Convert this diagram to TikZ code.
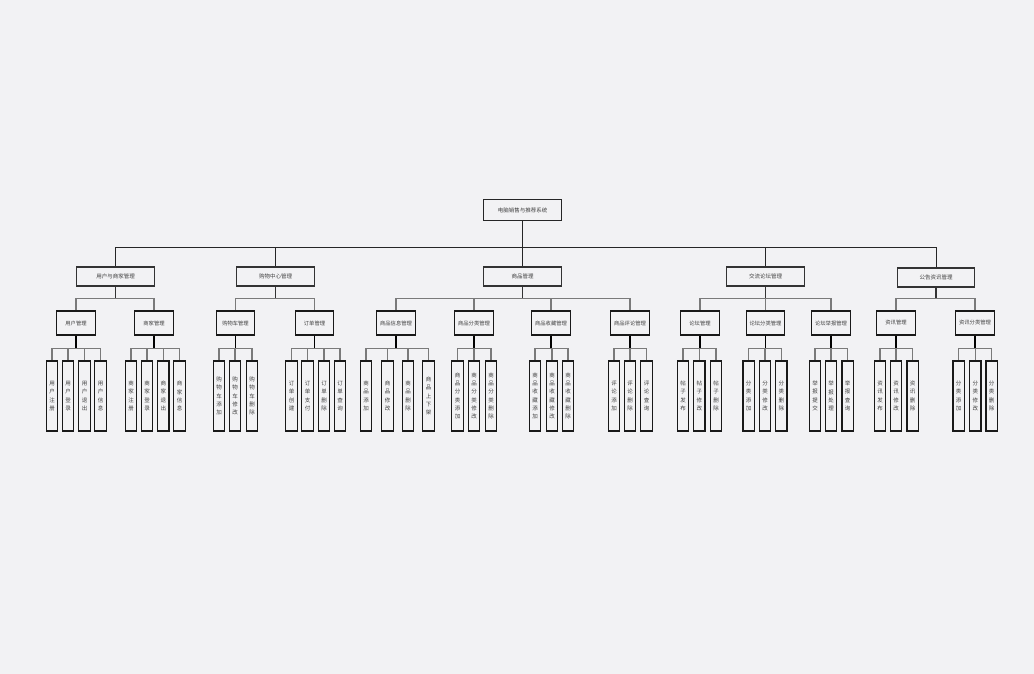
\documentclass[tikz,border=0pt]{standalone}
\usepackage{fontspec}
\newfontfamily\cjk{Noto Sans CJK SC}
\usepackage{tikz}
\definecolor{bg}{HTML}{F2F2F4}
\definecolor{linegray}{HTML}{7A7A7A}
\tikzstyle{sysbox} = [rectangle, minimum width=78pt, minimum height=21pt,
                      inner sep=0pt, draw=black!85, line width=1.1pt, fill=bg,
                      font=\cjk\fontsize{5.5}{6}\selectfont, text=black!75]
\tikzstyle{groupbox} = [rectangle, minimum width=77.5pt, minimum height=19pt,
                        inner sep=0pt, draw=black!80, line width=1.2pt, fill=bg,
                        font=\cjk\fontsize{5.5}{6}\selectfont, text=black!75]
\tikzstyle{modbox} = [rectangle, minimum width=38.5pt, minimum height=24pt,
                      inner sep=0pt, draw=black!90, line width=1.2pt, fill=bg,
                      font=\cjk\fontsize{5.3}{6}\selectfont, text=black!75]
\tikzstyle{leafbox} = [rectangle, minimum width=11.5pt, minimum height=70pt,
                       inner sep=0pt, draw=black!90, line width=1.3pt, fill=bg,
                       align=center, font=\cjk\fontsize{5.5}{8.3}\selectfont, text=black!75]
\tikzstyle{mainline} = [draw=black!85, line width=1pt]
\tikzstyle{subline} = [draw=linegray, line width=1.2pt]
\tikzstyle{groupstem} = [draw=black!80, line width=1.4pt]
\tikzstyle{stemline} = [draw=black, line width=1.6pt]

\begin{document}
\begin{tikzpicture}[x=1pt, y=-1pt]
\fill[bg] (0,0) rectangle (1034,674);
\useasboundingbox (0,0) rectangle (1034,674);

\node (sys) [sysbox] at (522.5,210) {电脑销售与推荐系统};

\node (yhsj) [groupbox] at (115.5,276.5) {用户与商家管理};
\node (gwzx) [groupbox] at (275.5,276.5) {购物中心管理};
\node (spgl) [groupbox] at (522.5,276.5) {商品管理};
\node (jllt) [groupbox] at (765.5,276.5) {交流论坛管理};
\node (ggzx) [groupbox] at (936,277.5) {公告资讯管理};

\node (yh) [modbox] at (76,323) {用户管理};
\node (sj) [modbox] at (154,323) {商家管理};
\node (gwc) [modbox] at (235.5,323) {购物车管理};
\node (dd) [modbox] at (314.5,323) {订单管理};
\node (spxx) [modbox] at (396,323) {商品信息管理};
\node (spfl) [modbox] at (474,323) {商品分类管理};
\node (spsc) [modbox] at (551,323) {商品收藏管理};
\node (sppl) [modbox] at (630,323) {商品评论管理};
\node (lt) [modbox] at (700,323) {论坛管理};
\node (ltfl) [modbox] at (765.5,323) {论坛分类管理};
\node (ltjb) [modbox] at (831,323) {论坛举报管理};
\node (zx) [modbox] at (896,323) {资讯管理};
\node (zxfl) [modbox] at (975,323) {资讯分类管理};

% leaves
\node (yh1) [leafbox] at (52,396) {用\\户\\注\\册};
\node (yh2) [leafbox] at (68,396) {用\\户\\登\\录};
\node (yh3) [leafbox] at (84.5,396) {用\\户\\退\\出};
\node (yh4) [leafbox] at (100.5,396) {用\\户\\信\\息};
\node (sj1) [leafbox] at (131,396) {商\\家\\注\\册};
\node (sj2) [leafbox] at (147,396) {商\\家\\登\\录};
\node (sj3) [leafbox] at (163.3,396) {商\\家\\退\\出};
\node (sj4) [leafbox] at (179.5,396) {商\\家\\信\\息};
\node (gwc1) [leafbox] at (219,396) {购\\物\\车\\添\\加};
\node (gwc2) [leafbox] at (235,396) {购\\物\\车\\修\\改};
\node (gwc3) [leafbox] at (252,396) {购\\物\\车\\删\\除};
\node (dd1) [leafbox] at (291.5,396) {订\\单\\创\\建};
\node (dd2) [leafbox] at (307.5,396) {订\\单\\支\\付};
\node (dd3) [leafbox] at (324,396) {订\\单\\删\\除};
\node (dd4) [leafbox] at (340,396) {订\\单\\查\\询};
\node (spxx1) [leafbox] at (366,396) {商\\品\\添\\加};
\node (spxx2) [leafbox] at (387.5,396) {商\\品\\修\\改};
\node (spxx3) [leafbox] at (408,396) {商\\品\\删\\除};
\node (spxx4) [leafbox] at (428.5,396) {商\\品\\上\\下\\架};
\node (spfl1) [leafbox] at (457.5,396) {商\\品\\分\\类\\添\\加};
\node (spfl2) [leafbox] at (474,396) {商\\品\\分\\类\\修\\改};
\node (spfl3) [leafbox] at (491,396) {商\\品\\分\\类\\删\\除};
\node (spsc1) [leafbox] at (535,396) {商\\品\\收\\藏\\添\\加};
\node (spsc2) [leafbox] at (552,396) {商\\品\\收\\藏\\修\\改};
\node (spsc3) [leafbox] at (568,396) {商\\品\\收\\藏\\删\\除};
\node (sppl1) [leafbox] at (614,396) {评\\论\\添\\加};
\node (sppl2) [leafbox] at (630,396) {评\\论\\删\\除};
\node (sppl3) [leafbox] at (646.5,396) {评\\论\\查\\询};
\node (lt1) [leafbox] at (683,396) {帖\\子\\发\\布};
\node (lt2) [leafbox] at (699.3,396) {帖\\子\\修\\改};
\node (lt3) [leafbox] at (716,396) {帖\\子\\删\\除};
\node (ltfl1) [leafbox] at (748.7,396) {分\\类\\添\\加};
\node (ltfl2) [leafbox] at (765,396) {分\\类\\修\\改};
\node (ltfl3) [leafbox] at (781.3,396) {分\\类\\删\\除};
\node (ltjb1) [leafbox] at (815,396) {举\\报\\提\\交};
\node (ltjb2) [leafbox] at (831,396) {举\\报\\处\\理};
\node (ltjb3) [leafbox] at (847.7,396) {举\\报\\查\\询};
\node (zx1) [leafbox] at (880,396) {资\\讯\\发\\布};
\node (zx2) [leafbox] at (896,396) {资\\讯\\修\\改};
\node (zx3) [leafbox] at (912.7,396) {资\\讯\\删\\除};
\node (zxfl1) [leafbox] at (958.7,396) {分\\类\\添\\加};
\node (zxfl2) [leafbox] at (975.3,396) {分\\类\\修\\改};
\node (zxfl3) [leafbox] at (991.7,396) {分\\类\\删\\除};

% system -> groups
\draw [mainline] (sys.south) -- ++(0,26) -| (yhsj.north);
\draw [mainline] (sys.south) -- ++(0,26) -| (gwzx.north);
\draw [mainline] (sys.south) -- (spgl.north);
\draw [mainline] (sys.south) -- ++(0,26) -| (jllt.north);
\draw [mainline] (sys.south) -- ++(0,26) -| (ggzx.north);

% groups -> modules
\draw [groupstem] (yhsj.south) -- ++(0,11.5);
\draw [subline] (yhsj.south) ++(0,11.5) -| (yh.north);
\draw [subline] (yhsj.south) ++(0,11.5) -| (sj.north);
\draw [groupstem] (gwzx.south) -- ++(0,11.5);
\draw [subline] (gwzx.south) ++(0,11.5) -| (gwc.north);
\draw [subline] (gwzx.south) ++(0,11.5) -| (dd.north);
\draw [groupstem] (spgl.south) -- ++(0,11.5);
\draw [subline] (spgl.south) ++(0,11.5) -| (spxx.north);
\draw [subline] (spgl.south) ++(0,11.5) -| (spfl.north);
\draw [subline] (spgl.south) ++(0,11.5) -| (spsc.north);
\draw [subline] (spgl.south) ++(0,11.5) -| (sppl.north);
\draw [groupstem] (jllt.south) -- ++(0,11.5);
\draw [subline] (jllt.south) ++(0,11.5) -| (lt.north);
\draw [subline] (jllt.south) ++(0,11.5) -| (ltfl.north);
\draw [subline] (jllt.south) ++(0,11.5) -| (ltjb.north);
\draw [groupstem] (ggzx.south) -- ++(0,10.5);
\draw [subline] (ggzx.south) ++(0,10.5) -| (zx.north);
\draw [subline] (ggzx.south) ++(0,10.5) -| (zxfl.north);

% modules -> leaves
\draw [stemline] (yh.south) -- ++(0,13);
\draw [subline] (yh.south) ++(0,13) -| (yh1.north);
\draw [subline] (yh.south) ++(0,13) -| (yh2.north);
\draw [subline] (yh.south) ++(0,13) -| (yh3.north);
\draw [subline] (yh.south) ++(0,13) -| (yh4.north);
\draw [stemline] (sj.south) -- ++(0,13);
\draw [subline] (sj.south) ++(0,13) -| (sj1.north);
\draw [subline] (sj.south) ++(0,13) -| (sj2.north);
\draw [subline] (sj.south) ++(0,13) -| (sj3.north);
\draw [subline] (sj.south) ++(0,13) -| (sj4.north);
\draw [stemline] (gwc.south) -- ++(0,13);
\draw [subline] (gwc.south) ++(0,13) -| (gwc1.north);
\draw [subline] (gwc.south) ++(0,13) -| (gwc2.north);
\draw [subline] (gwc.south) ++(0,13) -| (gwc3.north);
\draw [stemline] (dd.south) -- ++(0,13);
\draw [subline] (dd.south) ++(0,13) -| (dd1.north);
\draw [subline] (dd.south) ++(0,13) -| (dd2.north);
\draw [subline] (dd.south) ++(0,13) -| (dd3.north);
\draw [subline] (dd.south) ++(0,13) -| (dd4.north);
\draw [stemline] (spxx.south) -- ++(0,13);
\draw [subline] (spxx.south) ++(0,13) -| (spxx1.north);
\draw [subline] (spxx.south) ++(0,13) -| (spxx2.north);
\draw [subline] (spxx.south) ++(0,13) -| (spxx3.north);
\draw [subline] (spxx.south) ++(0,13) -| (spxx4.north);
\draw [stemline] (spfl.south) -- ++(0,13);
\draw [subline] (spfl.south) ++(0,13) -| (spfl1.north);
\draw [subline] (spfl.south) ++(0,13) -| (spfl2.north);
\draw [subline] (spfl.south) ++(0,13) -| (spfl3.north);
\draw [stemline] (spsc.south) -- ++(0,13);
\draw [subline] (spsc.south) ++(0,13) -| (spsc1.north);
\draw [subline] (spsc.south) ++(0,13) -| (spsc2.north);
\draw [subline] (spsc.south) ++(0,13) -| (spsc3.north);
\draw [stemline] (sppl.south) -- ++(0,13);
\draw [subline] (sppl.south) ++(0,13) -| (sppl1.north);
\draw [subline] (sppl.south) ++(0,13) -| (sppl2.north);
\draw [subline] (sppl.south) ++(0,13) -| (sppl3.north);
\draw [stemline] (lt.south) -- ++(0,13);
\draw [subline] (lt.south) ++(0,13) -| (lt1.north);
\draw [subline] (lt.south) ++(0,13) -| (lt2.north);
\draw [subline] (lt.south) ++(0,13) -| (lt3.north);
\draw [stemline] (ltfl.south) -- ++(0,13);
\draw [subline] (ltfl.south) ++(0,13) -| (ltfl1.north);
\draw [subline] (ltfl.south) ++(0,13) -| (ltfl2.north);
\draw [subline] (ltfl.south) ++(0,13) -| (ltfl3.north);
\draw [stemline] (ltjb.south) -- ++(0,13);
\draw [subline] (ltjb.south) ++(0,13) -| (ltjb1.north);
\draw [subline] (ltjb.south) ++(0,13) -| (ltjb2.north);
\draw [subline] (ltjb.south) ++(0,13) -| (ltjb3.north);
\draw [stemline] (zx.south) -- ++(0,13);
\draw [subline] (zx.south) ++(0,13) -| (zx1.north);
\draw [subline] (zx.south) ++(0,13) -| (zx2.north);
\draw [subline] (zx.south) ++(0,13) -| (zx3.north);
\draw [stemline] (zxfl.south) -- ++(0,13);
\draw [subline] (zxfl.south) ++(0,13) -| (zxfl1.north);
\draw [subline] (zxfl.south) ++(0,13) -| (zxfl2.north);
\draw [subline] (zxfl.south) ++(0,13) -| (zxfl3.north);
\end{tikzpicture}
\end{document}
